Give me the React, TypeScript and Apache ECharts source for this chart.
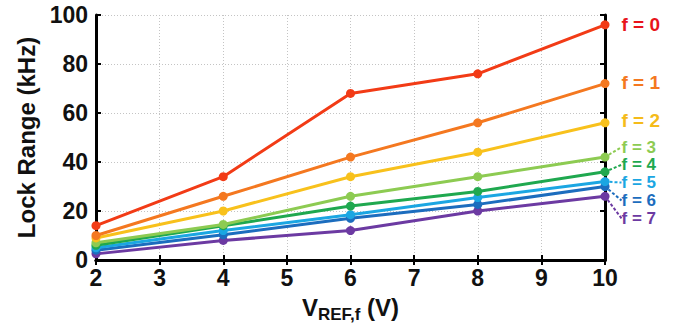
import React, { useEffect, useRef } from "react";
import * as echarts from "echarts";

const xValues = [2, 4, 6, 8, 10];
const seriesNames = ["f = 0", "f = 1", "f = 2", "f = 3", "f = 4", "f = 5", "f = 6", "f = 7"];
const f0 = [14, 34, 68, 76, 96];
const f1 = [10, 26, 42, 56, 72];
const f2 = [9, 20, 34, 44, 56];
const f3 = [7, 14.5, 26, 34, 42];
const f4 = [6, 14, 22, 28, 36];
const f5 = [5, 12, 18.5, 25.5, 32];
const f6 = [4, 10.3, 17, 22.7, 30];
const f7 = [2.5, 8, 12, 20, 26];
const allValues = [f0, f1, f2, f3, f4, f5, f6, f7];
const lineColors = ["#F23B16", "#F47820", "#F8C11C", "#8DCB52", "#1FA84F", "#1BA6E2", "#1C6DBE", "#6C3AA2"];
const labelColors = ["#E8141B", "#F47820", "#F5BB1A", "#8DCB52", "#1FA84F", "#1BA6E2", "#1C6DBE", "#6C3AA2"];
const labelDy = [0, -1, -2, -10, -7, 1, 14, 22];
const withLeader = [false, false, false, true, true, true, true, true];

const FONT = "'Liberation Sans', Arial, sans-serif";

export default function App() {
  const ref = useRef<HTMLDivElement>(null);
  useEffect(() => {
    if (!ref.current) return;
    const chart = echarts.init(ref.current, null, { renderer: "svg" });
    const series = allValues.map((vals, i) => ({
      name: seriesNames[i],
      type: "line",
      data: vals.map((v, j) => {
        const item: any = { value: [xValues[j], v] };
        if (j === vals.length - 1) {
          item.label = {
            show: true,
            position: "right",
            distance: withLeader[i] ? 5 : 12,
            formatter: seriesNames[i],
            color: labelColors[i],
            fontSize: withLeader[i] ? 17 : 19,
            lineHeight: 17,
            fontWeight: "bold",
            fontFamily: FONT,
          };
        }
        return item;
      }),
      symbol: "circle",
      symbolSize: 9,
      lineStyle: { color: lineColors[i], width: 3 },
      itemStyle: { color: lineColors[i] },
      labelLayout: { dx: withLeader[i] ? 7 : 0, dy: labelDy[i], hideOverlap: false },
      labelLine: {
        show: withLeader[i],
        length2: 0,
        lineStyle: { color: lineColors[i], width: 2, type: [3, 2] },
      },
      z: 10 - i,
    }));
    chart.setOption({
      animation: false,
      grid: { left: 96, top: 15, right: 88, bottom: 64, containLabel: false },
      xAxis: [
        {
          type: "value",
          min: 2,
          max: 10,
          interval: 1,
          name: "{v|V}{sub|REF,f}{v| (V)}",
          nameLocation: "middle",
          nameGap: 33,
          nameTextStyle: {
            rich: {
              v: { fontSize: 24, fontWeight: "bold", fontFamily: FONT, color: "#111", verticalAlign: "bottom", lineHeight: 26 },
              sub: { fontSize: 17, fontWeight: "bold", fontFamily: FONT, color: "#111", verticalAlign: "bottom", lineHeight: 20, padding: [0, 0, -4, 0] },
            },
          },
          axisLine: { show: true, lineStyle: { color: "#000", width: 3 } },
          axisTick: { show: true, inside: true, length: 5, lineStyle: { color: "#000", width: 2 } },
          axisLabel: { color: "#111", fontSize: 23, fontWeight: "bold", fontFamily: FONT, margin: 6 },
          splitLine: { show: true, lineStyle: { color: "#c4c4c4", width: 1, type: [1, 2] } },
        },
        {
          type: "value",
          position: "top",
          min: 2,
          max: 10,
          interval: 1,
          axisLine: { show: true, lineStyle: { color: "#000", width: 3 } },
          axisTick: { show: true, inside: true, length: 5, lineStyle: { color: "#000", width: 2 } },
          axisLabel: { show: false },
          splitLine: { show: false },
        },
      ],
      yAxis: [
        {
          type: "value",
          min: 0,
          max: 100,
          interval: 20,
          name: "Lock Range (kHz)",
          nameLocation: "middle",
          nameGap: 57,
          nameTextStyle: { fontSize: 24, fontWeight: "bold", fontFamily: FONT, color: "#111" },
          axisLine: { show: true, lineStyle: { color: "#000", width: 3 } },
          axisTick: { show: true, inside: true, length: 5, lineStyle: { color: "#000", width: 2 } },
          axisLabel: { color: "#111", fontSize: 23, fontWeight: "bold", fontFamily: FONT, margin: 8 },
          splitLine: { show: true, lineStyle: { color: "#c4c4c4", width: 1, type: [1, 2] } },
        },
        {
          type: "value",
          position: "right",
          min: 0,
          max: 100,
          interval: 20,
          axisLine: { show: true, lineStyle: { color: "#000", width: 3 } },
          axisTick: { show: true, inside: true, length: 5, lineStyle: { color: "#000", width: 2 } },
          axisLabel: { show: false },
          splitLine: { show: false },
        },
      ],
      series,
    });
    return () => chart.dispose();
  }, []);
  return (
    <div
      ref={ref}
      style={{ position: "fixed", left: 0, top: 0, width: 693, height: 328, background: "#fff" }}
    />
  );
}
